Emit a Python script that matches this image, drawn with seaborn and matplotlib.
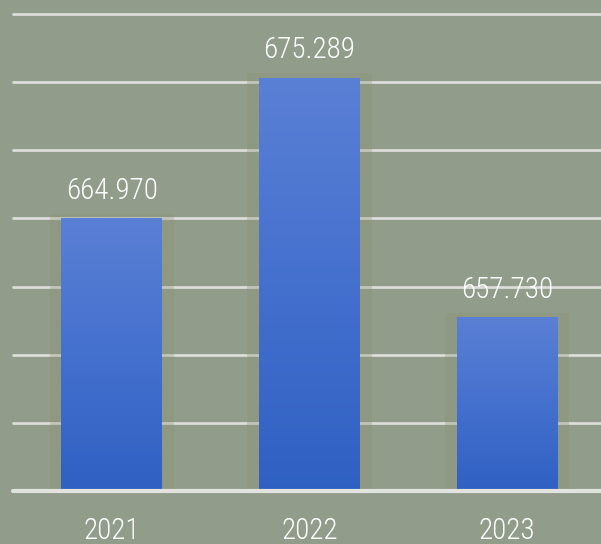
import matplotlib
matplotlib.use("Agg")
import matplotlib.pyplot as plt
import matplotlib.patches as mpatches
from matplotlib.colors import LinearSegmentedColormap
import numpy as np
import pandas as pd
import seaborn as sns

years = ["2021", "2022", "2023"]
values = [664.970, 675.289, 657.730]
value_labels = ["664.970", "675.289", "657.730"]
y_ticks = [645, 650, 655, 660, 665, 670, 675, 680]
y_min, y_max = 645, 680

sns.set_theme(style="white")
plt.rcParams['font.family'] = ['Roboto Condensed', 'Liberation Sans', 'DejaVu Sans']

bg = "#919c8b"
fig = plt.figure(figsize=(6.01, 5.44), dpi=100)
fig.patch.set_facecolor(bg)
ax = fig.add_axes([13/601, 53/544, 588/601, 477/544])
ax.set_facecolor(bg)

df = pd.DataFrame({"year": years, "value": values})
sns.barplot(data=df, x="year", y="value", color="#3f6bcc", width=0.51,
            ax=ax, zorder=3, saturation=1)

ax.set_yticks(y_ticks)
ax.yaxis.grid(True, color="#dcdcd8", linewidth=2.0, zorder=1)
for gl in ax.get_ygridlines():
    gl.set_clip_on(False)
ax.set_axisbelow(True)

grad = np.linspace(0, 1, 256).reshape(-1, 1)
cmap = LinearSegmentedColormap.from_list("barg", ["#2e60c2", "#4470ce", "#5a80d5"])
bottom = y_min - 0.25
for p in list(ax.patches):
    x0 = p.get_x()
    w = p.get_width()
    top = p.get_y() + p.get_height()
    halo = mpatches.Rectangle((x0 - 0.06, bottom - 0.1), w + 0.12, top - bottom + 0.45,
                              facecolor="#8a9270", alpha=0.3, edgecolor="none", zorder=2)
    ax.add_patch(halo)
    ax.imshow(grad, extent=(x0, x0 + w, bottom, top), origin="lower",
              cmap=cmap, aspect="auto", zorder=4, interpolation="bilinear")
    p.set_visible(False)

ax.set_xlim(-0.50, 2.476)
ax.set_ylim(y_min, y_max)

ax.axhline(y_min, color="#e2e2de", linewidth=3, zorder=5, clip_on=False)

for i, (v, lab) in enumerate(zip(values, value_labels)):
    ax.annotate(lab, (i, v), xytext=(0, 10), textcoords="offset points",
                ha="center", va="bottom", color="white", fontsize=21,
                fontweight="light", zorder=6)

ax.set_xlabel("")
ax.set_ylabel("")
ax.set_yticklabels([])
ax.tick_params(axis="y", length=0)
ax.tick_params(axis="x", length=0, pad=19, labelsize=21, labelcolor="white")
for t in ax.get_xticklabels():
    t.set_fontweight("light")
for s in ax.spines.values():
    s.set_visible(False)

fig.savefig("out.png", dpi=100, facecolor=bg)
